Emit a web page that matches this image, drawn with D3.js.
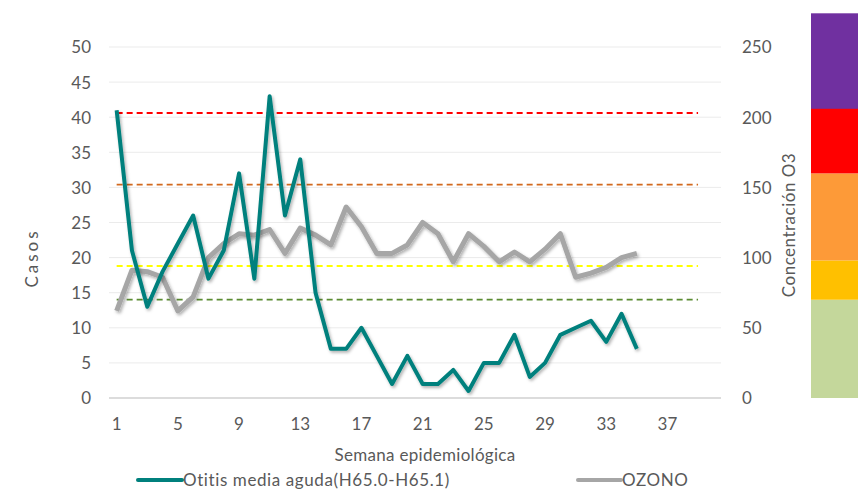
<!DOCTYPE html>
<html>
<head>
<meta charset="utf-8">
<script src="https://cdn.jsdelivr.net/npm/d3@7"></script>
<style>
  body { margin: 0; background: #fff; }
  text { font-family: Lato, "Open Sans", sans-serif; fill: #595959; }
</style>
</head>
<body>
<div id="chart"></div>
<script>
//categories (semana epidemiologica)
var semanas = d3.range(1, 41);
var etiquetasX = [1, 5, 9, 13, 17, 21, 25, 29, 33, 37];

//series
var otitis = [41, 21, 13, 18, 22, 26, 17, 21, 32, 17, 43, 26, 34, 15, 7, 7, 10, 6, 2, 6,
  2, 2, 4, 1, 5, 5, 9, 3, 5, 9, 10, 11, 8, 12, 7];
var ozono = [62, 91, 90, 86, 62, 72, 100, 110, 117, 116, 120, 103, 121, 116, 109, 136, 122, 103, 103, 109,
  125, 117, 97, 117, 108, 97, 104, 97, 106, 117, 86, 89, 93, 100, 103];

//umbrales de ozono (eje derecho), semanas 1 a 39
var umbralValores = [203, 152, 94, 70];
var umbralColores = ['#FF0000', '#D2691E', '#FFFF00', '#5B8C32'];
var umbralFin = 39;

//barra de colores de la escala de ozono
var bandaDesde = [0, 70, 98, 160, 206];
var bandaHasta = [70, 98, 160, 210, 274];
var bandaColores = ['#C4D79B', '#FFC000', '#FD9A38', '#FF0000', '#7030A0'];

var ticksIzq = [0, 5, 10, 15, 20, 25, 30, 35, 40, 45, 50];
var ticksDer = [0, 50, 100, 150, 200, 250];

//setup
var width = 866, height = 490;
var svg = d3.select('#chart').append('svg')
  .attr('width', width)
  .attr('height', height);

var defs = svg.append('defs');
defs.append('filter').attr('id', 'sombra')
  .attr('x', '-10%').attr('y', '-10%').attr('width', '120%').attr('height', '130%')
  .append('feDropShadow')
  .attr('dx', 1.5).attr('dy', 2).attr('stdDeviation', 1.5)
  .attr('flood-color', '#000').attr('flood-opacity', 0.3);

var x = d3.scaleBand().domain(semanas).range([109, 721]);
var cx = function(s) { return x(s) + x.bandwidth() / 2; };
var yL = d3.scaleLinear().domain([0, 50]).range([398, 47]);
var yR = d3.scaleLinear().domain([0, 250]).range([398, 47]);

//gridlines
svg.append('g').selectAll('line')
  .data(ticksIzq.slice(1))
  .enter().append('line')
  .attr('x1', 109).attr('x2', 721)
  .attr('y1', function(d) { return yL(d); })
  .attr('y2', function(d) { return yL(d); })
  .attr('stroke', '#EBEBEB').attr('stroke-width', 1);

svg.append('line')
  .attr('x1', 109).attr('x2', 721)
  .attr('y1', yL(0)).attr('y2', yL(0))
  .attr('stroke', '#D0D0D0').attr('stroke-width', 1.5);

//axis labels
var axisL = d3.axisLeft(yL).tickValues(ticksIzq).tickSize(0).tickPadding(0);
svg.append('g').attr('transform', 'translate(91,0)').call(axisL)
  .call(function(g) { g.select('.domain').remove(); })
  .selectAll('text').attr('dy', '0.35em');

var axisR = d3.axisRight(yR).tickValues(ticksDer).tickSize(0).tickPadding(0);
svg.append('g').attr('transform', 'translate(742,0)').call(axisR)
  .call(function(g) { g.select('.domain').remove(); })
  .selectAll('text').attr('dy', '0.35em');

var axisB = d3.axisBottom(x).tickValues(etiquetasX).tickSize(0).tickPadding(0);
svg.append('g').attr('transform', 'translate(0,418)').call(axisB)
  .call(function(g) { g.select('.domain').remove(); })
  .selectAll('text').attr('dy', '0.71em');

svg.selectAll('.tick text').style('fill', '#595959')
  .style('font-size', '17px')
  .style('font-family', 'Lato, "Open Sans", sans-serif');

//titles
svg.append('text')
  .attr('transform', 'translate(38,258) rotate(-90)')
  .attr('text-anchor', 'middle')
  .style('font-size', '17px')
  .style('letter-spacing', '3px')
  .text('Casos');

svg.append('text')
  .attr('transform', 'translate(795,225) rotate(-90)')
  .attr('text-anchor', 'middle')
  .style('font-size', '17px')
  .style('letter-spacing', '0.5px')
  .text('Concentración O3');

svg.append('text')
  .attr('x', 425).attr('y', 461)
  .attr('text-anchor', 'middle')
  .style('font-size', '17px')
  .style('letter-spacing', '0.3px')
  .text('Semana epidemiológica');

//threshold dashed lines
svg.append('g').selectAll('line')
  .data(umbralValores)
  .enter().append('line')
  .attr('x1', cx(1)).attr('x2', cx(umbralFin))
  .attr('y1', function(d) { return yR(d); })
  .attr('y2', function(d) { return yR(d); })
  .attr('stroke', function(d, i) { return umbralColores[i]; })
  .attr('stroke-width', 1.8)
  .attr('stroke-dasharray', '6,4');

//series lines
var lineaOz = d3.line()
  .x(function(d, i) { return cx(semanas[i]); })
  .y(function(d) { return yR(d); });
var lineaOt = d3.line()
  .x(function(d, i) { return cx(semanas[i]); })
  .y(function(d) { return yL(d); });

svg.append('path')
  .datum(ozono)
  .attr('d', lineaOz)
  .attr('fill', 'none')
  .attr('stroke', '#A6A6A6')
  .attr('stroke-width', 5)
  .attr('stroke-linejoin', 'round')
  .attr('filter', 'url(#sombra)');

svg.append('path')
  .datum(otitis)
  .attr('d', lineaOt)
  .attr('fill', 'none')
  .attr('stroke', '#00807D')
  .attr('stroke-width', 4)
  .attr('stroke-linejoin', 'round')
  .attr('filter', 'url(#sombra)');

//color bar
svg.append('g').selectAll('rect')
  .data(bandaColores)
  .enter().append('rect')
  .attr('x', 811).attr('width', 47)
  .attr('y', function(d, i) { return yR(bandaHasta[i]); })
  .attr('height', function(d, i) { return yR(bandaDesde[i]) - yR(bandaHasta[i]); })
  .attr('fill', function(d) { return d; });

//legend
var leyenda = svg.append('g');
leyenda.append('line')
  .attr('x1', 138).attr('x2', 182).attr('y1', 480).attr('y2', 480)
  .attr('stroke', '#00807D').attr('stroke-width', 4).attr('stroke-linecap', 'round');
leyenda.append('text')
  .attr('x', 183).attr('y', 486)
  .style('font-size', '17px')
  .style('letter-spacing', '0.6px')
  .text('Otitis media aguda(H65.0-H65.1)');
leyenda.append('line')
  .attr('x1', 578).attr('x2', 621).attr('y1', 480).attr('y2', 480)
  .attr('stroke', '#A6A6A6').attr('stroke-width', 4).attr('stroke-linecap', 'round');
leyenda.append('text')
  .attr('x', 622).attr('y', 486)
  .style('font-size', '17px')
  .style('letter-spacing', '0.6px')
  .text('OZONO');
</script>
</body>
</html>
